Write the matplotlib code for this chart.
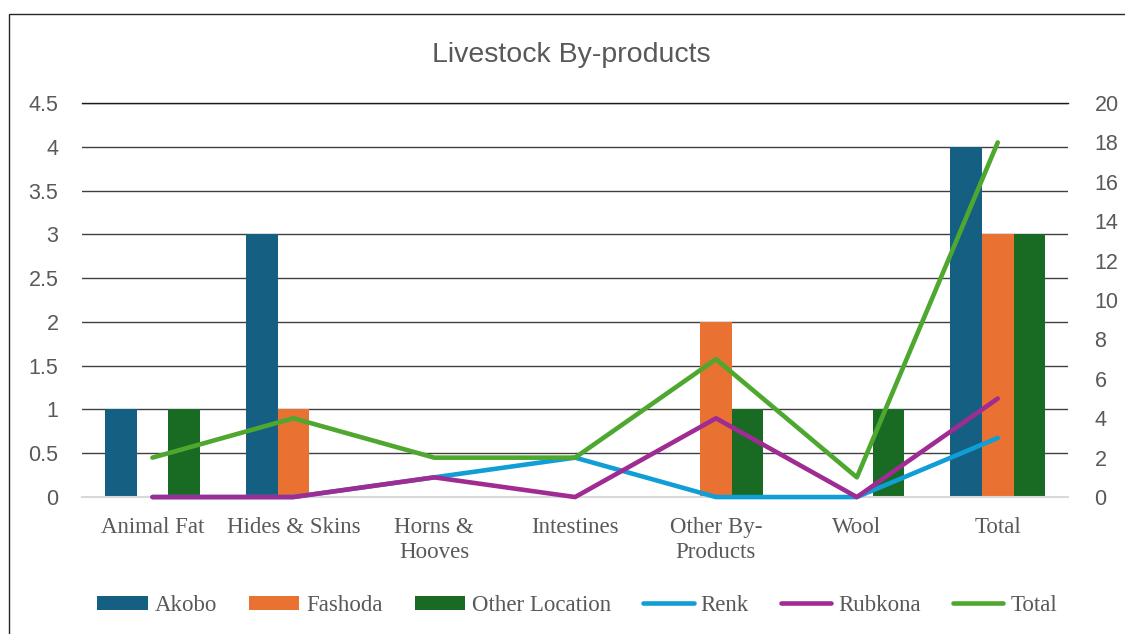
import numpy as np
import matplotlib.pyplot as plt
from matplotlib.patches import Rectangle

categories = ["Animal Fat", "Hides & Skins", "Horns &\nHooves", "Intestines",
              "Other By-\nProducts", "Wool", "Total"]

# bars (left axis)
akobo = [1, 3, 0, 0, 0, 0, 4]
fashoda = [0, 1, 0, 0, 2, 0, 3]
other_location = [1, 0, 0, 0, 1, 1, 3]

# lines (right axis)
renk = [0, 0, 1, 2, 0, 0, 3]
rubkona = [0, 0, 1, 0, 4, 0, 5]
total = [2, 4, 2, 2, 7, 1, 18]

bar_colors = ["#156082", "#E97132", "#196B24"]
line_colors = ["#0F9ED5", "#A02B93", "#4EA72E"]
text_gray = "#595959"
serif = "Liberation Serif"
sans = "Liberation Sans"

fig = plt.figure(figsize=(11.25, 6.34), dpi=100)
ax = fig.add_axes([0.0729, 0.216, 0.8766, 0.6215])
ax2 = ax.twinx()

x = np.arange(len(categories))
w = 0.224
for i, (vals, name) in enumerate(zip([akobo, fashoda, other_location],
                                     ["Akobo", "Fashoda", "Other Location"])):
    ax.bar(x + (i - 1) * w, vals, width=w, color=bar_colors[i], label=name, zorder=2)

for vals, name, c in zip([renk, rubkona, total], ["Renk", "Rubkona", "Total"], line_colors):
    ax2.plot(x, vals, color=c, linewidth=3.3, solid_capstyle="round",
             solid_joinstyle="round", label=name, clip_on=False, zorder=5)

ax.set_xlim(-0.5, len(categories) - 0.5)
ax.set_ylim(0, 4.5)
ax.set_yticks(np.arange(0, 4.51, 0.5))
ax.set_yticklabels(["0", "0.5", "1", "1.5", "2", "2.5", "3", "3.5", "4", "4.5"])
ax2.set_ylim(0, 20)
ax2.set_yticks(range(0, 21, 2))

ax.grid(axis="y", color="#404040", linewidth=1, zorder=0)
ax.set_axisbelow(True)
for a in (ax, ax2):
    for s in ["top", "left", "right"]:
        a.spines[s].set_visible(False)
    a.spines["bottom"].set_color("#d9d9d9")
    a.spines["bottom"].set_linewidth(1.5)
    a.tick_params(length=0)
ax.spines["top"].set_visible(True)
ax.spines["top"].set_color("#1a1a1a")
ax.spines["top"].set_linewidth(1)
ax2.spines["bottom"].set_visible(False)

ax.set_xticks(x)
ax.set_xticklabels(categories, fontfamily=serif, fontsize=16.5, color=text_gray,
                   linespacing=1.25)
ax.tick_params(axis="x", pad=14)
ax.tick_params(axis="y", pad=17)
ax2.tick_params(axis="y", pad=19)
for lbl in ax.get_yticklabels() + ax2.get_yticklabels():
    lbl.set_fontfamily(sans)
    lbl.set_fontsize(15.5)
    lbl.set_color(text_gray)

fig.text(0.508, 0.914, "Livestock By-products", ha="center", va="center",
         fontfamily=sans, fontsize=20.5, color=text_gray)

h1, l1 = ax.get_legend_handles_labels()
h2, l2 = ax2.get_legend_handles_labels()
fig.legend(h1 + h2, l1 + l2, loc="center", bbox_to_anchor=(0.513, 0.045), ncol=6,
           frameon=False, prop={"family": serif, "size": 16.5}, labelcolor=text_gray,
           handlelength=2.2, handleheight=0.6, handletextpad=0.3, columnspacing=1.4)

# chart border (only left and top edges are visible)
fig.patches.append(Rectangle((0.008, -0.5), 1.5, 1.478, transform=fig.transFigure,
                             fill=False, edgecolor="#262626", linewidth=1))

fig.savefig("out.png", dpi=100)
